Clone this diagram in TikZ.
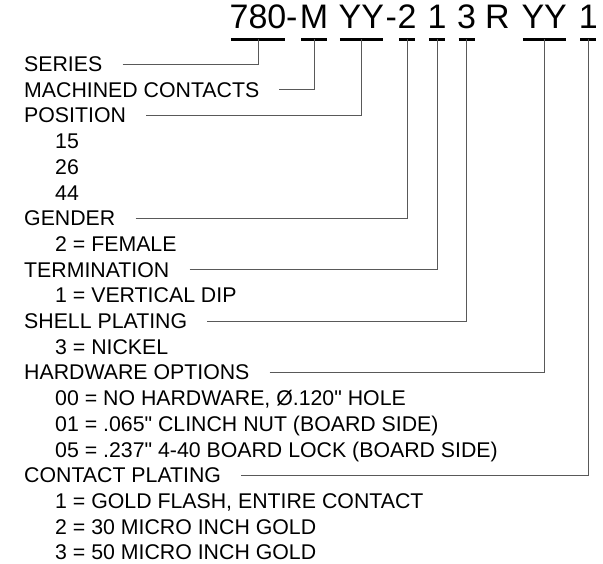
\documentclass[tikz,border=0pt]{standalone}
\usepackage{fontspec}
\newfontfamily\arialfont{Liberation Sans}
\tikzset{
  code/.style={inner sep=0pt, anchor=base, font=\arialfont\fontsize{34}{34}\selectfont},
  lbl/.style={inner sep=0pt, anchor=base west, font=\arialfont\fontsize{21.3}{25}\selectfont},
  uline/.style={line width=3pt, shorten <=1.5pt, shorten >=1.5pt},
  lead/.style={line width=1pt, black!65},
}
\begin{document}
\begin{tikzpicture}[x=1pt,y=-1pt]
	\useasboundingbox (0,0) rectangle (603,563);
	% part number
	\node[code] (ser) at (258,28.5) {780};
	\node[code] (dasha) at (291.8,28.5) {-};
	\node[code] (mc) at (314,28.5) {M};
	\node[code] (pos) at (361.3,28.5) {YY};
	\node[code] (dashb) at (391.2,28.5) {-};
	\node[code] (gen) at (407,28.5) {2};
	\node[code] (term) at (437,28.5) {1};
	\node[code] (shell) at (466.7,28.5) {3};
	\node[code] (rr) at (497.5,28.5) {R};
	\node[code] (hw) at (544.2,28.5) {YY};
	\node[code] (cp) at (588.3,28.5) {1};
	\foreach \n in {ser,mc,pos,gen,term,shell,hw,cp}
		\draw[uline] ([yshift=-10.5pt]\n.base west) -- ([yshift=-10.5pt]\n.base east);
	% legend
	\node[lbl] (series) at (24,71.5) {SERIES};
	\node[lbl] (machined) at (24,97.2) {MACHINED CONTACTS};
	\node[lbl] (position) at (24,122.9) {POSITION};
	\node[lbl] (pa) at (55,148.6) {15};
	\node[lbl] (pb) at (55,174.3) {26};
	\node[lbl] (pc) at (55,200.0) {44};
	\node[lbl] (gender) at (24,225.7) {GENDER};
	\node[lbl] (ga) at (55,251.4) {2 = FEMALE};
	\node[lbl] (termination) at (24,277.1) {TERMINATION};
	\node[lbl] (ta) at (55,302.8) {1 = VERTICAL DIP};
	\node[lbl] (shellpl) at (24,328.5) {SHELL PLATING};
	\node[lbl] (sa) at (55,354.2) {3 = NICKEL};
	\node[lbl] (hardware) at (24,379.9) {HARDWARE OPTIONS};
	\node[lbl] (ha) at (55,405.6) {00 = NO HARDWARE, Ø.120" HOLE};
	\node[lbl] (hb) at (55,431.3) {01 = .065" CLINCH NUT (BOARD SIDE)};
	\node[lbl] (hc) at (55,457.0) {05 = .237" 4-40 BOARD LOCK (BOARD SIDE)};
	\node[lbl] (contact) at (24,482.7) {CONTACT PLATING};
	\node[lbl] (ca) at (55,508.4) {1 = GOLD FLASH, ENTIRE CONTACT};
	\node[lbl] (cb) at (55,534.1) {2 = 30 MICRO INCH GOLD};
	\node[lbl] (cc) at (55,559.8) {3 = 50 MICRO INCH GOLD};
	% leaders
	\draw[lead] ([xshift=20pt]series.east) -| ([yshift=-10.5pt]ser.base);
	\draw[lead] ([xshift=20pt]machined.east) -| ([yshift=-10.5pt]mc.base);
	\draw[lead] ([xshift=20pt]position.east) -| ([yshift=-10.5pt]pos.base);
	\draw[lead] ([xshift=20pt]gender.east) -| ([yshift=-10.5pt]gen.base);
	\draw[lead] ([xshift=20pt]termination.east) -| ([yshift=-10.5pt]term.base);
	\draw[lead] ([xshift=20pt]shellpl.east) -| ([yshift=-10.5pt]shell.base);
	\draw[lead] ([xshift=20pt]hardware.east) -| ([yshift=-10.5pt]hw.base);
	\draw[lead] ([xshift=20pt]contact.east) -| ([yshift=-10.5pt]cp.base);
\end{tikzpicture}
\end{document}
